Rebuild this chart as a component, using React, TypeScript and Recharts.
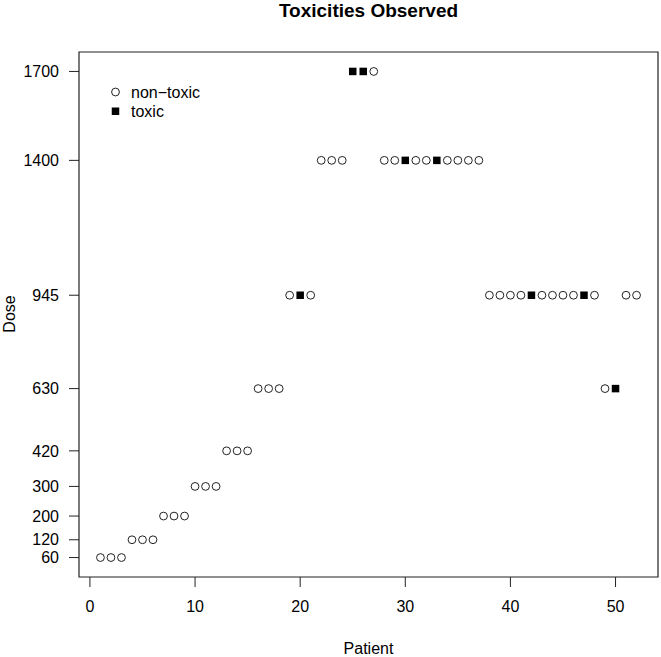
import { ScatterChart, Scatter, XAxis, YAxis, ReferenceArea } from 'recharts'

const patients = [
  1, 2, 3, 4, 5, 6, 7, 8, 9, 10, 11, 12, 13, 14, 15, 16, 17, 18, 19, 20, 21, 22, 23, 24, 25, 26,
  27, 28, 29, 30, 31, 32, 33, 34, 35, 36, 37, 38, 39, 40, 41, 42, 43, 44, 45, 46, 47, 48, 49, 50,
  51, 52,
]
const doses = [
  60, 60, 60, 120, 120, 120, 200, 200, 200, 300, 300, 300, 420, 420, 420, 630, 630, 630, 945, 945,
  945, 1400, 1400, 1400, 1700, 1700, 1700, 1400, 1400, 1400, 1400, 1400, 1400, 1400, 1400, 1400,
  1400, 945, 945, 945, 945, 945, 945, 945, 945, 945, 945, 945, 630, 630, 945, 945,
]
// 1 = toxic, 0 = non-toxic
const toxicFlags = [
  0, 0, 0, 0, 0, 0, 0, 0, 0, 0, 0, 0, 0, 0, 0, 0, 0, 0, 0, 1, 0, 0, 0, 0, 1, 1, 0, 0, 0, 1, 0, 0,
  1, 0, 0, 0, 0, 0, 0, 0, 0, 1, 0, 0, 0, 0, 1, 0, 0, 1, 0, 0,
]
const xTicks = [0, 10, 20, 30, 40, 50]
const doseTicks = [60, 120, 200, 300, 420, 630, 945, 1400, 1700]

const FONT = '"Liberation Sans", Arial, Helvetica, sans-serif'
const INK = '#222'

const points = patients.map((p, i) => ({ x: p, y: doses[i], toxic: toxicFlags[i] === 1 }))
const nonToxic = points.filter((d) => !d.toxic)
const toxic = points.filter((d) => d.toxic)

// R pads the data range by 4% on each side
const xPad = (patients[patients.length - 1] - patients[0]) * 0.04
const yPad = (Math.max(...doses) - Math.min(...doses)) * 0.04
const xDomain = [patients[0] - xPad, patients[patients.length - 1] + xPad]
const yDomain = [Math.min(...doses) - yPad, Math.max(...doses) + yPad]

const OpenCircle = (props: any) => (
  <circle cx={props.cx} cy={props.cy} r={3.9} fill="none" stroke={INK} strokeWidth={1} />
)
const FilledSquare = (props: any) => (
  <rect x={props.cx - 3.75} y={props.cy - 3.75} width={7.5} height={7.5} fill="#000" />
)

export default function App() {
  return (
    <div style={{ position: 'absolute', left: 0, top: 0, width: 661, height: 657, background: '#fff' }}>
      <ScatterChart width={661} height={657} margin={{ top: 52, right: 3, bottom: 0, left: 0 }}>
        <XAxis
          type="number"
          dataKey="x"
          domain={xDomain}
          ticks={xTicks}
          interval={0}
          allowDataOverflow
          axisLine={false}
          tickLine={{ stroke: INK }}
          tickSize={10}
          tickMargin={14}
          height={80}
          tick={{ fill: '#000', fontSize: 16, fontFamily: FONT }}
        />
        <YAxis
          type="number"
          dataKey="y"
          domain={yDomain}
          ticks={doseTicks}
          interval={0}
          allowDataOverflow
          axisLine={false}
          tickLine={{ stroke: INK }}
          tickSize={10}
          tickMargin={10}
          width={79}
          tick={{ fill: '#000', fontSize: 16, fontFamily: FONT }}
        />
        <ReferenceArea
          x1={xDomain[0]}
          x2={xDomain[1]}
          y1={yDomain[0]}
          y2={yDomain[1]}
          fill="none"
          stroke={INK}
          strokeWidth={1.2}
          ifOverflow="visible"
        />
        <Scatter data={nonToxic} shape={OpenCircle} isAnimationActive={false} />
        <Scatter data={toxic} shape={FilledSquare} isAnimationActive={false} />
      </ScatterChart>
      <svg
        width={661}
        height={657}
        style={{ position: 'absolute', left: 0, top: 0, pointerEvents: 'none' }}
        fontFamily={FONT}
      >
        <text x={368.5} y={17} textAnchor="middle" fontSize={19} fontWeight="bold" fill="#000">
          Toxicities Observed
        </text>
        <text x={368.5} y={654} textAnchor="middle" fontSize={16} fill="#000">
          Patient
        </text>
        <text x={15} y={314} textAnchor="middle" fontSize={16} fill="#000" transform="rotate(-90 15 314)">
          Dose
        </text>
        <circle cx={115.5} cy={92} r={3.9} fill="none" stroke={INK} strokeWidth={1} />
        <text x={131} y={97.5} fontSize={16} fill="#000">
          non−toxic
        </text>
        <rect x={111.75} y={107.5} width={7.5} height={7.5} fill="#000" />
        <text x={131} y={117} fontSize={16} fill="#000">
          toxic
        </text>
      </svg>
    </div>
  )
}
